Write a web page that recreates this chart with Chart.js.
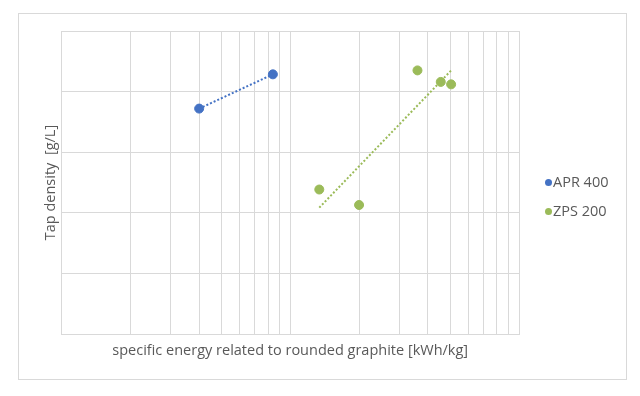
<!DOCTYPE html>
<html>
<head>
<meta charset="utf-8">
<script src="https://cdn.jsdelivr.net/npm/chart.js@4/dist/chart.umd.min.js"></script>
<style>
    body { margin: 0; background: #fff; }
    #wrap { position: relative; width: 640px; height: 396px; }
    #frame {
        position: absolute; left: 18px; top: 13px; width: 609px; height: 367px;
        box-sizing: border-box; border: 1px solid #d9d9d9;
    }
    #resourceChart { position: absolute; left: 0; top: 0; }
    #legend {
        position: absolute; left: 545px; top: 171px;
        font-family: "Open Sans", sans-serif; font-size: 14.5px; color: #595959;
    }
    #legend div { height: 28.5px; line-height: 21px; white-space: nowrap; }
    #legend span.dot {
        display: inline-block; width: 7px; height: 7px; border-radius: 50%;
        margin-right: 1px; vertical-align: 1px;
    }
</style>
</head>
<body>
<div id="wrap">
    <div id="frame"></div>
    <canvas id="resourceChart" width="640" height="396"></canvas>
    <div id="legend"></div>
</div>
<script>
// values
const seriesNames = ["APR 400", "ZPS 200"];
const seriesColors = ["#4472c4", "#9bbb59"];
const aprEnergy = [4, 8.4];
const aprDensity = [744, 857];
const zpsEnergy = [13.4, 20, 36, 45.5, 50.5];
const zpsDensity = [477, 426, 870, 832, 824];
// log axis grid lines (no labels shown)
const xGrid = [1, 2, 3, 4, 5, 6, 7, 8, 9, 10, 20, 30, 40, 50, 60, 70, 80, 90, 100];

const gridColor = "#d9d9d9";
const textColor = "#595959";

function toPoints(xs, ys) {
    return xs.map((x, i) => ({ x: x, y: ys[i] }));
}

// logarithmic trendline (straight on the log axis), like the spreadsheet one
function logTrend(xs, ys) {
    const lx = xs.map(v => Math.log10(v));
    const n = lx.length;
    const mx = lx.reduce((a, b) => a + b, 0) / n;
    const my = ys.reduce((a, b) => a + b, 0) / n;
    let sxy = 0, sxx = 0;
    for (let i = 0; i < n; i++) {
        sxy += (lx[i] - mx) * (ys[i] - my);
        sxx += (lx[i] - mx) * (lx[i] - mx);
    }
    const b = sxy / sxx;
    const a = my - b * mx;
    const x0 = Math.min(...xs), x1 = Math.max(...xs);
    return [{ x: x0, y: a + b * Math.log10(x0) }, { x: x1, y: a + b * Math.log10(x1) }];
}

const seriesData = [
    toPoints(aprEnergy, aprDensity),
    toPoints(zpsEnergy, zpsDensity)
];
const trendData = [
    logTrend(aprEnergy, aprDensity),
    logTrend(zpsEnergy, zpsDensity)
];

const datasets = [];
seriesNames.forEach((name, i) => {
    datasets.push({
        label: name,
        data: seriesData[i],
        backgroundColor: seriesColors[i],
        borderColor: seriesColors[i],
        pointRadius: 4.5,
        pointHoverRadius: 4.5,
        showLine: false,
        order: 1
    });
    datasets.push({
        label: name + " trend",
        data: trendData[i],
        borderColor: seriesColors[i],
        borderWidth: 2,
        borderDash: [2, 2],
        pointRadius: 0,
        showLine: true,
        fill: false,
        order: 2
    });
});

// Legend as plain html
const legendEl = document.getElementById("legend");
seriesNames.forEach((name, i) => {
    const row = document.createElement("div");
    row.innerHTML = `<span class="dot" style="background:${seriesColors[i]}"></span>${name}`;
    legendEl.appendChild(row);
});

const ctx = document.getElementById("resourceChart").getContext("2d");
const chart = new Chart(ctx, {
    type: "scatter",
    data: { datasets: datasets },
    options: {
        responsive: false,
        animation: false,
        layout: {
            padding: { left: 36, top: 31, right: 121, bottom: 32.5 }
        },
        plugins: {
            legend: { display: false },
            tooltip: { enabled: false }
        },
        scales: {
            x: {
                type: "logarithmic",
                min: 1,
                max: 100,
                afterBuildTicks: (axis) => {
                    axis.ticks = xGrid.map(v => ({ value: v }));
                },
                ticks: { display: false },
                grid: { color: gridColor, drawTicks: false },
                border: { color: gridColor },
                title: {
                    display: true,
                    text: "specific energy related to rounded graphite [kWh/kg]",
                    color: textColor,
                    font: { family: "Open Sans", size: 14.5 },
                    padding: { top: 8, bottom: 4 }
                }
            },
            y: {
                min: 0,
                max: 1000,
                ticks: { display: false, stepSize: 200 },
                grid: { color: gridColor, drawTicks: false },
                border: { color: gridColor },
                title: {
                    display: true,
                    text: "Tap density  [g/L]",
                    color: textColor,
                    font: { family: "Open Sans", size: 14.5 },
                    padding: { top: 6, bottom: 2 }
                }
            }
        }
    }
});
</script>
</body>
</html>
